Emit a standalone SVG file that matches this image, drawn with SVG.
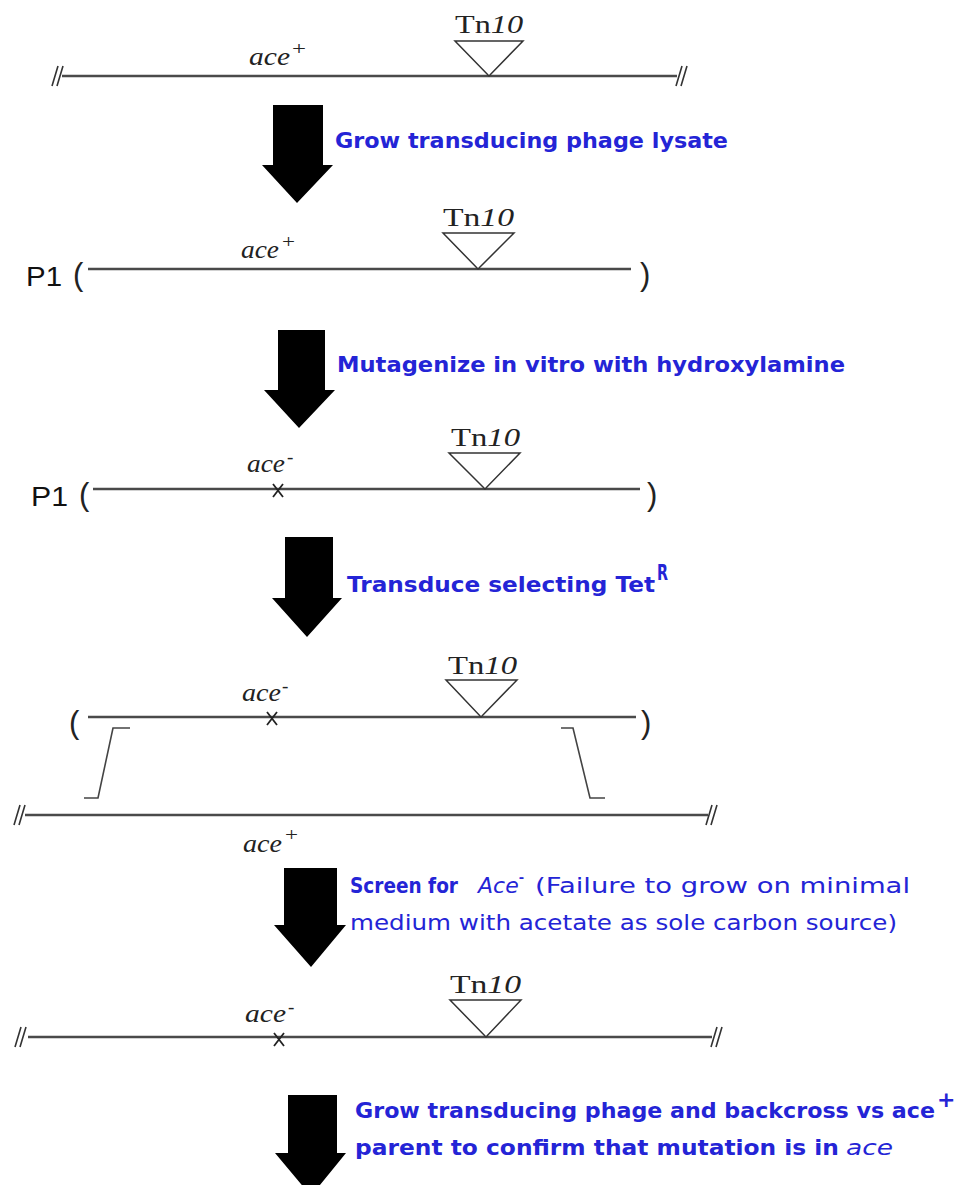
<svg xmlns="http://www.w3.org/2000/svg" width="964" height="1185" viewBox="0 0 964 1185">
  <style>
    .dna { stroke: #4a4a4a; stroke-width: 2.6; fill: none; }
    .brk { stroke: #444; stroke-width: 1.6; fill: none; }
    .cut { stroke: #333; stroke-width: 1.6; fill: none; }
    .tn { stroke: #333; stroke-width: 1.5; fill: #fff; }
    .mut { stroke: #222; stroke-width: 1.8; fill: none; }
    .gene { font-family: "Liberation Serif", serif; font-style: italic; font-size: 26px; fill: #222; }
    .sup { font-family: "Liberation Serif", serif; font-size: 19px; fill: #222; }
    .tnl { font-family: "Liberation Serif", serif; font-size: 26px; fill: #222; }
    .p1 { font-family: "Liberation Sans", sans-serif; font-size: 28px; fill: #111; }
    .par { font-family: "Liberation Sans", sans-serif; font-size: 31px; fill: #222; }
    .step { font-family: "DejaVu Sans", sans-serif; font-size: 22px; fill: #2424d6; }
    .b { font-weight: bold; }
    .arrow { fill: #000; }
  </style>

  <!-- stage 1: chromosome with ace+ and Tn10 -->
  <g id="chromosome">
    <line class="dna" x1="62" y1="76" x2="677" y2="76"/>
    <path class="cut" d="M52,86 L58,66 M57,86 L63,66"/>
    <path class="cut" d="M676,86 L682,66 M681,86 L687,66"/>
    <text class="gene" x="249" y="65" textLength="41" lengthAdjust="spacingAndGlyphs">ace</text>
    <text class="sup" x="292" y="55" textLength="14" lengthAdjust="spacingAndGlyphs">+</text>
    <polygon class="tn" points="455,41 523,41 489,76"/>
    <text class="tnl" x="455" y="33" textLength="68" lengthAdjust="spacingAndGlyphs">Tn<tspan font-style="italic">10</tspan></text>
  </g>

  <!-- stage 2: P1 lysate carrying ace+ and Tn10 -->
  <g id="p1-lysate">
    <text class="p1" x="26" y="286" textLength="36" lengthAdjust="spacingAndGlyphs">P1</text>
    <text class="par" x="73" y="285">(</text>
    <line class="dna" x1="88" y1="269" x2="631" y2="269"/>
    <text class="par" x="640" y="285">)</text>
    <text class="gene" x="241" y="258" textLength="38" lengthAdjust="spacingAndGlyphs">ace</text>
    <text class="sup" x="282" y="248" textLength="13" lengthAdjust="spacingAndGlyphs">+</text>
    <polygon class="tn" points="443,233 514,233 478,269"/>
    <text class="tnl" x="443" y="226" textLength="71" lengthAdjust="spacingAndGlyphs">Tn<tspan font-style="italic">10</tspan></text>
  </g>

  <!-- stage 3: mutagenized P1 lysate -->
  <g id="p1-mutagenized">
    <text class="p1" x="31" y="506" textLength="37" lengthAdjust="spacingAndGlyphs">P1</text>
    <text class="par" x="79" y="505">(</text>
    <line class="dna" x1="93" y1="489" x2="640" y2="489"/>
    <text class="par" x="647" y="505">)</text>
    <text class="gene" x="247" y="472" textLength="38" lengthAdjust="spacingAndGlyphs">ace</text>
    <text class="sup" x="287" y="463">-</text>
    <path class="mut" d="M273,484 L283,497 M283,484 L273,497"/>
    <polygon class="tn" points="449,453 520,453 485,489"/>
    <text class="tnl" x="451" y="446" textLength="69" lengthAdjust="spacingAndGlyphs">Tn<tspan font-style="italic">10</tspan></text>
  </g>

  <!-- stage 4: transduced fragment recombining into the chromosome -->
  <g id="recombination">
    <text class="par" x="69" y="733">(</text>
    <line class="dna" x1="88" y1="717" x2="636" y2="717"/>
    <text class="par" x="641" y="733">)</text>
    <text class="gene" x="242" y="701" textLength="39" lengthAdjust="spacingAndGlyphs">ace</text>
    <text class="sup" x="282" y="692">-</text>
    <path class="mut" d="M267,712 L277,725 M277,712 L267,725"/>
    <polygon class="tn" points="446,680 517,680 481,717"/>
    <text class="tnl" x="448" y="674" textLength="69" lengthAdjust="spacingAndGlyphs">Tn<tspan font-style="italic">10</tspan></text>
    <path class="brk" d="M130,728 H113 L98,798 H84"/>
    <path class="brk" d="M561,728 H573 L590,798 H605"/>
    <line class="dna" x1="25" y1="815" x2="708" y2="815"/>
    <path class="cut" d="M14,825 L20,805 M19,825 L25,805"/>
    <path class="cut" d="M706,825 L712,805 M711,825 L717,805"/>
    <text class="gene" x="243" y="852" textLength="39" lengthAdjust="spacingAndGlyphs">ace</text>
    <text class="sup" x="285" y="841" textLength="13" lengthAdjust="spacingAndGlyphs">+</text>
  </g>

  <!-- stage 5: ace- Tn10 chromosome -->
  <g id="mutant">
    <line class="dna" x1="28" y1="1037" x2="712" y2="1037"/>
    <path class="cut" d="M15,1047 L21,1027 M20,1047 L26,1027"/>
    <path class="cut" d="M711,1047 L717,1027 M716,1047 L722,1027"/>
    <text class="gene" x="245" y="1022" textLength="41" lengthAdjust="spacingAndGlyphs">ace</text>
    <text class="sup" x="288" y="1013">-</text>
    <path class="mut" d="M274,1033 L284,1046 M284,1033 L274,1046"/>
    <polygon class="tn" points="450,1000 521,1000 486,1037"/>
    <text class="tnl" x="450" y="993" textLength="71" lengthAdjust="spacingAndGlyphs">Tn<tspan font-style="italic">10</tspan></text>
  </g>

  <!-- block arrows between stages, with their step labels -->
  <g id="connectors">
    <polygon class="arrow" points="273,105 323,105 323,165 333,165 297,203 262,165 273,165"/>
    <polygon class="arrow" points="278,330 325,330 325,390 335,390 299,428 264,390 278,390"/>
    <polygon class="arrow" points="285,537 333,537 333,598 342,598 307,637 272,598 285,598"/>
    <polygon class="arrow" points="284,868 337,868 337,925 346,925 311,967 274,925 284,925"/>
    <polygon class="arrow" points="288,1095 337,1095 337,1153 346,1153 311,1196 275,1153 288,1153"/>

    <text class="step b" x="335" y="148" textLength="393" lengthAdjust="spacingAndGlyphs">Grow transducing phage lysate</text>
    <text class="step b" x="337" y="372" textLength="508" lengthAdjust="spacingAndGlyphs">Mutagenize in vitro with hydroxylamine</text>
    <text class="step b" x="347" y="592" textLength="308" lengthAdjust="spacingAndGlyphs">Transduce selecting Tet</text>
    <text class="step b" x="657" y="580" font-size="15" textLength="11" lengthAdjust="spacingAndGlyphs">R</text>

    <text class="step b" x="350" y="893" textLength="108" lengthAdjust="spacingAndGlyphs">Screen for</text>
    <text class="step" x="478" y="893" font-size="20"><tspan font-style="italic">Ace</tspan><tspan dy="-11" font-size="13" font-weight="bold">-</tspan></text>
    <text class="step" x="535" y="893" textLength="375" lengthAdjust="spacingAndGlyphs">(Failure to grow on minimal</text>
    <text class="step" x="350" y="930" textLength="547" lengthAdjust="spacingAndGlyphs">medium with acetate as sole carbon source)</text>

    <text class="step b" x="355" y="1118" textLength="580" lengthAdjust="spacingAndGlyphs">Grow transducing phage and backcross vs ace</text>
    <text class="step b" x="937" y="1107" font-size="14">+</text>
    <text class="step b" x="355" y="1155" textLength="484" lengthAdjust="spacingAndGlyphs">parent to confirm that mutation is in</text>
    <text class="step" x="846" y="1155" font-style="italic" textLength="47" lengthAdjust="spacingAndGlyphs">ace</text>
  </g>
</svg>
